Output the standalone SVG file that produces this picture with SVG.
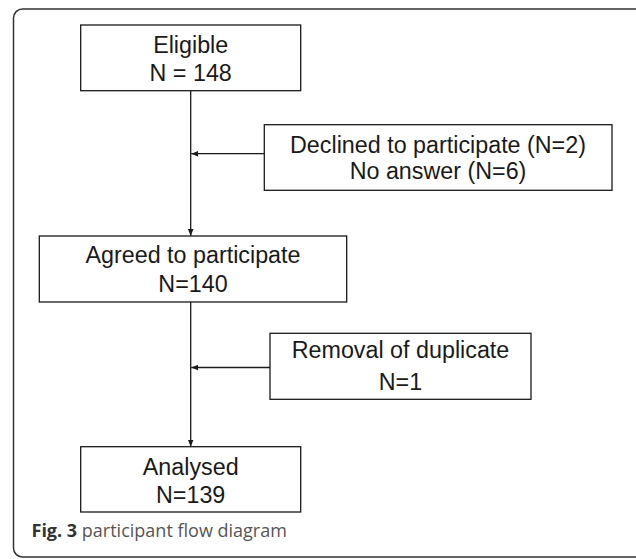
<svg xmlns="http://www.w3.org/2000/svg" width="636" height="559" viewBox="0 0 636 559">
<style>
.box rect{fill:#fff;stroke:#1a1a1a;stroke-width:1.3}
.box text{font-family:"Liberation Sans",Arial,sans-serif;font-size:23.3px;fill:#1a1a1a;text-anchor:middle}
.conn line{stroke:#1a1a1a;stroke-width:1.3}
.cap{font-family:"Open Sans","Noto Sans",sans-serif;font-size:18px;fill:#555}
</style>
<defs>
<marker id="ah" viewBox="0 0 10 8" refX="10" refY="4" markerWidth="7" markerHeight="6" markerUnits="userSpaceOnUse" orient="auto">
<path d="M0,0 L10,4 L0,8 Z" fill="#1a1a1a"/>
</marker>
</defs>
<rect x="0" y="0" width="636" height="559" fill="#fff"/>
<rect id="frame" x="13.5" y="9" width="630" height="548" rx="9" fill="none" stroke="#333" stroke-width="1.5"/>
<g class="conn" id="connectors">
<line x1="190.7" y1="91" x2="190.7" y2="236" marker-end="url(#ah)"/>
<line x1="264.3" y1="153.7" x2="191.3" y2="153.7" marker-end="url(#ah)"/>
<line x1="190.7" y1="302" x2="190.7" y2="446.7" marker-end="url(#ah)"/>
<line x1="270" y1="367.5" x2="191.3" y2="367.5" marker-end="url(#ah)"/>
</g>
<g class="box" id="eligible">
<rect x="80.7" y="25" width="220" height="65.7"/>
<text x="190.7" y="53.3">Eligible</text>
<text x="190.7" y="81">N = 148</text>
</g>
<g class="box" id="declined">
<rect x="264.3" y="124.7" width="347.7" height="65.6"/>
<text x="438" y="152.7">Declined to participate (N=2)</text>
<text x="438" y="179">No answer (N=6)</text>
</g>
<g class="box" id="agreed">
<rect x="39.3" y="236" width="307.4" height="66"/>
<text x="193" y="263.3">Agreed to participate</text>
<text x="193" y="291.7">N=140</text>
</g>
<g class="box" id="removal">
<rect x="270" y="333.3" width="261" height="66"/>
<text x="400.5" y="357.5">Removal of duplicate</text>
<text x="400.5" y="389.5">N=1</text>
</g>
<g class="box" id="analysed">
<rect x="80.7" y="446.7" width="220" height="65.3"/>
<text x="190.7" y="475">Analysed</text>
<text x="190.7" y="502.7">N=139</text>
</g>
<text class="cap" x="31.5" y="536.5"><tspan font-weight="bold" fill="#333">Fig. 3</tspan> participant flow diagram</text>
</svg>
